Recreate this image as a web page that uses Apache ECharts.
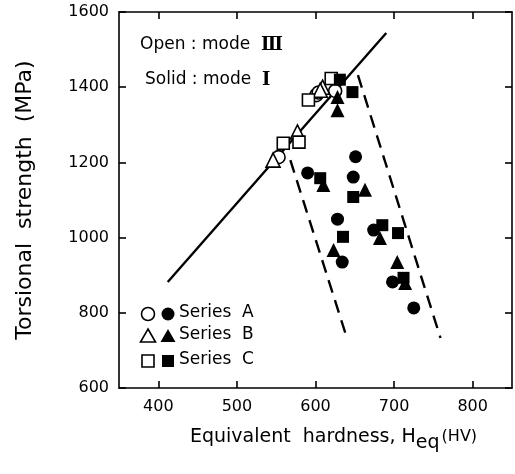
<!DOCTYPE html>
<html>
<head>
<meta charset="utf-8">
<script src="https://cdn.jsdelivr.net/npm/echarts@6/dist/echarts.min.js"></script>
<style>
  html, body { margin: 0; padding: 0; background: #fff; }
  #chart { width: 515px; height: 474px; }
</style>
</head>
<body>
<div id="chart"></div>
<script>
// [hardness HV, torsional strength MPa]
const seriesAOpen = [[553, 1214], [601, 1379], [604, 1386], [625, 1390]]
const seriesASolid = [[651, 1215], [590, 1172], [648, 1161], [628, 1049], [634, 935], [674, 1020], [698, 882], [725, 813]]
const seriesBOpen = [[546, 1206], [577, 1281], [609, 1400], [606, 1392]]
const seriesBSolid = [[628, 1374], [628, 1339], [610, 1140], [663, 1127], [623, 967], [682, 999], [704, 935], [714, 879]]
const seriesCOpen = [[559, 1251], [579, 1254], [591, 1366], [620, 1423]]
const seriesCSolid = [[631, 1420], [647, 1387], [606, 1158], [648, 1108], [635, 1002], [685, 1033], [705, 1012], [712, 893]]

const trendLine = [[412, 882], [690, 1544]]
const leftBound = [[568, 1206], [638, 746]]
const rightBound = [[654, 1432], [759, 733]]

const xTicks = [400, 500, 600, 700, 800]

const font = "DejaVu Sans, sans-serif"
const chart = echarts.init(document.getElementById("chart"))

const openStyle = { color: "#fff", borderColor: "#000", borderWidth: 1.6, opacity: 1 }
const solidStyle = { color: "#000", opacity: 1 }

const scatter = (name, data, symbol, size, style) => ({
  name,
  type: "scatter",
  data,
  symbol,
  symbolSize: size,
  itemStyle: style,
  z: 5,
  animation: false,
})

const line = (data, type) => ({
  type: "line",
  data,
  symbol: "none",
  lineStyle: { color: "#000", width: 2.4, type: type },
  z: 2,
  animation: false,
})

const axisCommon = {
  axisLine: { show: true, lineStyle: { color: "#000", width: 1.6 } },
  axisTick: { show: true, inside: true, length: 7, lineStyle: { color: "#000", width: 1.6 } },
  splitLine: { show: false },
}

// legend drawn by hand: open + solid marker per series
const legendRows = [
  { y: 314, open: "circle", label: "Series  A" },
  { y: 336, open: "triangle", label: "Series  B" },
  { y: 361, open: "rect", label: "Series  C" },
]
const legendGraphics = []
legendRows.forEach((r) => {
  const shape = (cx, filled) => {
    const style = filled ? { fill: "#000" } : { fill: "#fff", stroke: "#000", lineWidth: 1.6 }
    if (r.open === "circle") return { type: "circle", shape: { cx, cy: r.y, r: 6.5 }, style }
    if (r.open === "triangle")
      return { type: "polygon", shape: { points: [[cx, r.y - 7], [cx + 7.5, r.y + 6], [cx - 7.5, r.y + 6]] }, style }
    return { type: "rect", shape: { x: cx - 6, y: r.y - 6, width: 12, height: 12 }, style }
  }
  legendGraphics.push(shape(148, false), shape(168, true))
  legendGraphics.push({
    type: "text",
    left: 179,
    top: r.y - 10,
    style: { text: r.label, font: "17px " + font, fill: "#000" },
  })
})

const option = {
  backgroundColor: "#fff",
  grid: { left: 119, right: 3, top: 12, bottom: 86 },
  xAxis: [
    {
      type: "value",
      min: 350,
      max: 850,
      interval: 50,
      ...axisCommon,
      axisTick: { ...axisCommon.axisTick, customValues: xTicks },
      axisLabel: {
        customValues: xTicks,
        color: "#000",
        fontSize: 16,
        fontFamily: font,
        margin: 11,
      },
      name: "{t|Equivalent  hardness, H}{s|eq}{u|(HV)}",
      nameLocation: "middle",
      nameGap: 40,
      nameTextStyle: {
        padding: [0, 0, 0, 36],
        rich: {
          t: { fontSize: 19, fontFamily: font, color: "#000", verticalAlign: "bottom", padding: [0, 0, 6, 0] },
          s: { fontSize: 19, fontFamily: font, color: "#000", verticalAlign: "bottom" },
          u: { fontSize: 16, fontFamily: font, color: "#000", verticalAlign: "bottom", padding: [0, 0, 8, 2] },
        },
      },
    },
    {
      type: "value",
      position: "top",
      min: 350,
      max: 850,
      interval: 50,
      ...axisCommon,
      axisTick: { ...axisCommon.axisTick, customValues: xTicks },
      axisLabel: { show: false },
    },
  ],
  yAxis: [
    {
      type: "value",
      min: 600,
      max: 1600,
      interval: 200,
      ...axisCommon,
      axisLabel: { color: "#000", fontSize: 16, fontFamily: font, margin: 10, formatter: (v) => String(v) },
      name: "Torsional  strength  (MPa)",
      nameLocation: "middle",
      nameGap: 83,
      nameTextStyle: { fontSize: 22, fontFamily: font, color: "#000" },
    },
    {
      type: "value",
      position: "right",
      min: 600,
      max: 1600,
      interval: 200,
      ...axisCommon,
      axisLabel: { show: false },
    },
  ],
  graphic: [
    {
      type: "text",
      left: 140,
      top: 36,
      style: {
        text: "{a|Open : mode  }{r|Ⅲ}",
        rich: {
          a: { font: "17px " + font, fill: "#000" },
          r: { font: "bold 18px DejaVu Serif, serif", fill: "#000" },
        },
      },
    },
    {
      type: "text",
      left: 145,
      top: 71,
      style: {
        text: "{a|Solid : mode  }{r|Ⅰ}",
        rich: {
          a: { font: "17px " + font, fill: "#000" },
          r: { font: "bold 18px DejaVu Serif, serif", fill: "#000" },
        },
      },
    },
    ...legendGraphics,
  ],
  series: [
    line(trendLine, "solid"),
    line(leftBound, [13, 8]),
    line(rightBound, [13, 8]),
    scatter("Series A open", seriesAOpen, "circle", 13, openStyle),
    scatter("Series B open", seriesBOpen, "triangle", 14, openStyle),
    scatter("Series C open", seriesCOpen, "rect", 12, openStyle),
    scatter("Series A", seriesASolid, "circle", 13, solidStyle),
    scatter("Series B", seriesBSolid, "triangle", 14, solidStyle),
    scatter("Series C", seriesCSolid, "rect", 12, solidStyle),
  ],
}

chart.setOption(option)
</script>
</body>
</html>
